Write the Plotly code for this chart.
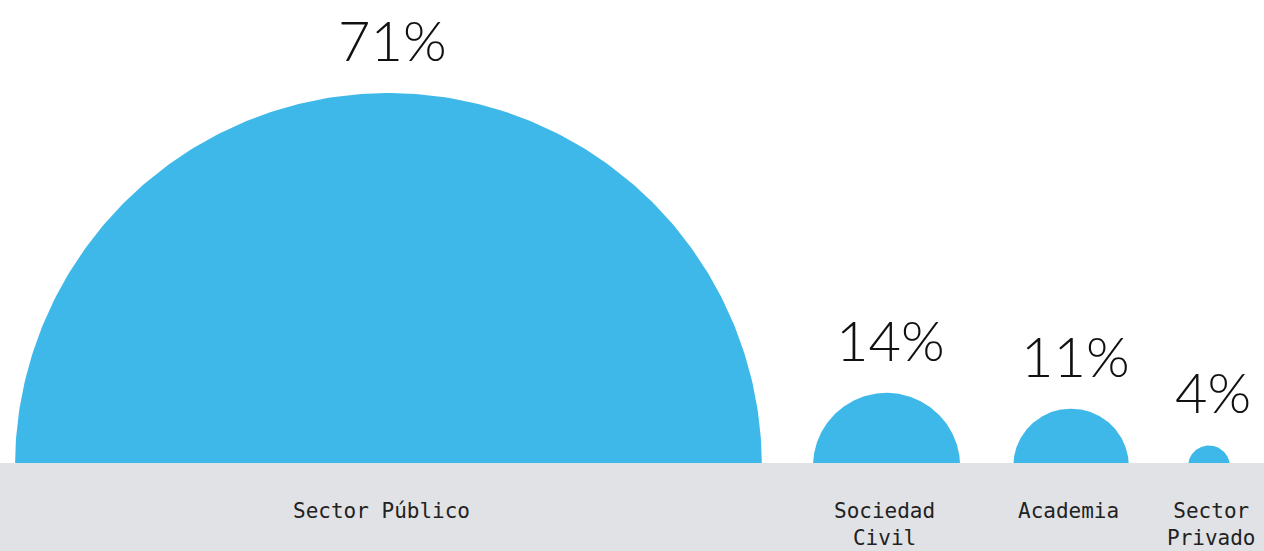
import plotly.graph_objects as go
import numpy as np

# ---- data ----
categories = ["Sector Público", "Sociedad<br>Civil", "Academia", "Sector<br>Privado"]
values = [71, 14, 11, 4]
value_labels = ["71%", "14%", "11%", "4%"]

# ---- layout constants (pixels) ----
W, H = 1264, 551
band_h = 88          # gray band height below baseline
k = 5.26             # radius per percentage point
first_left = 15      # left edge of the first half circle
gaps = [51, 53, 59]  # gaps between consecutive circles
cy = -3.5            # circle centre slightly below baseline
blue = "#3EB8E8"
band = "#E1E2E6"

radii = [k * v for v in values]
centers = []
x = first_left
for i, r in enumerate(radii):
    if i > 0:
        x += gaps[i - 1]
    centers.append(x + r)
    x += 2 * r

fig = go.Figure()

# half circles as filled polygons through the axes
for c, r in zip(centers, radii):
    t = np.linspace(0, np.pi, 240)
    fig.add_trace(go.Scatter(
        x=c + r * np.cos(t), y=cy + r * np.sin(t),
        fill="toself", fillcolor=blue, mode="lines",
        line=dict(width=0, color=blue), hoverinfo="skip", showlegend=False))

# gray band
fig.add_shape(type="rect", xref="paper", x0=0, x1=1, yref="y", y0=-band_h, y1=0,
              fillcolor=band, line=dict(width=0), layer="above")

# percentage labels
for c, r, lab in zip(centers, radii, value_labels):
    fig.add_annotation(x=c + 4, y=cy + r + 18, text=lab, showarrow=False,
                       xanchor="center", yanchor="bottom",
                       font=dict(family="Lato", size=56, color="#111111", weight=300))

# category labels
label_shift = [-7, -2, -3, 3]
for c, cat, dx in zip(centers, categories, label_shift):
    fig.add_annotation(x=c + dx, y=-34, text=cat, showarrow=False,
                       xanchor="center", yanchor="top",
                       font=dict(family="DejaVu Sans Mono", size=21, color="#222222"))

fig.update_xaxes(range=[0, W], visible=False, fixedrange=True)
fig.update_yaxes(range=[-band_h, H - band_h], visible=False, fixedrange=True)
fig.update_layout(width=W, height=H, margin=dict(l=0, r=0, t=0, b=0),
                  paper_bgcolor="white", plot_bgcolor="white")

fig.write_html("out.html", config={"displayModeBar": False},
               post_script="document.body.style.margin='0';document.body.style.overflow='hidden';")
